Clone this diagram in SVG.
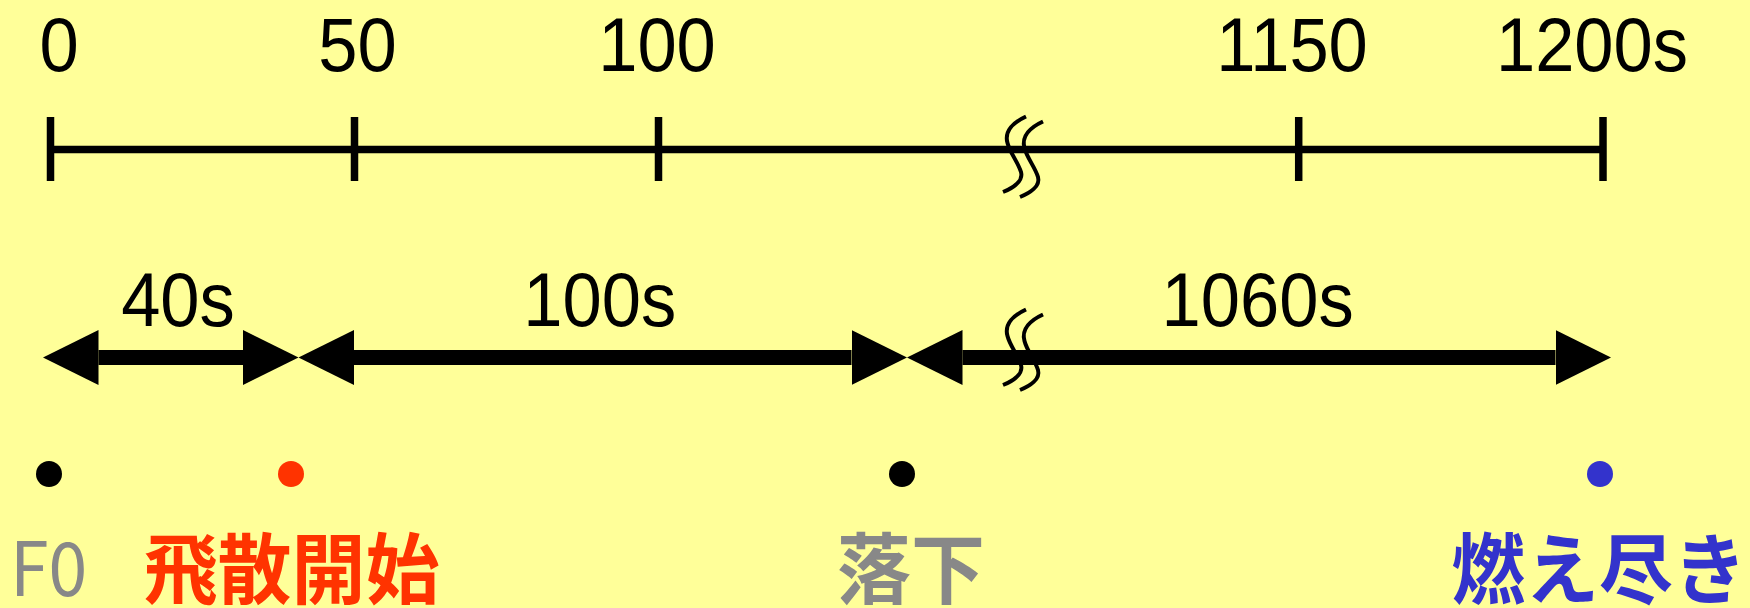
<svg xmlns="http://www.w3.org/2000/svg" xmlns:xlink="http://www.w3.org/1999/xlink" width="1750" height="608" viewBox="0 0 1750 608">
  <style>
    .num { font-family: "Liberation Sans", Arial, sans-serif; font-size: 76px; fill: #000; text-anchor: middle; }
    .jp { font-family: "Noto Sans CJK JP", "Noto Sans CJK SC", sans-serif; font-size: 77px; font-weight: bold; text-anchor: middle; }
    .lat { font-family: "Noto Sans CJK JP", "Noto Sans", sans-serif; font-size: 75px; fill: #888888; text-anchor: middle; }
    .axis { stroke: #000; stroke-width: 7.5; fill: none; }
    .tick { stroke: #000; stroke-width: 7.5; }
    .shaft { stroke: #000; stroke-width: 15; }
    .brk { stroke: #000; stroke-width: 4; fill: none; }
  </style>
  <defs>
    <marker id="head" markerUnits="userSpaceOnUse" viewBox="0 -28 56 56" refX="0" refY="0" markerWidth="56" markerHeight="56" orient="auto-start-reverse">
      <path d="M0,-27.5 L55.5,0 L0,27.5 Z" fill="#000"/>
    </marker>
    <g id="breakmark">
      <path class="brk" d="M1026,116.5 C1014,122 1004,131 1007.5,143 C1010,153 1018,162 1021,172 C1023.5,181 1013,188 1003,192"/>
      <path class="brk" d="M1043,121.5 C1031,127 1021,136 1024.5,148 C1027,158 1035,167 1038,177 C1040.5,186 1030,193 1020,197"/>
    </g>
  </defs>

  <rect x="0" y="0" width="1750" height="608" fill="#FFFF99"/>

  <g id="timeline">
    <line class="axis" x1="50.5" y1="149.5" x2="1603" y2="149.5"/>
    <line class="tick" x1="50.5" y1="117" x2="50.5" y2="181"/>
    <line class="tick" x1="354.5" y1="117" x2="354.5" y2="181"/>
    <line class="tick" x1="658.5" y1="117" x2="658.5" y2="181"/>
    <line class="tick" x1="1298.7" y1="117" x2="1298.7" y2="181"/>
    <line class="tick" x1="1603" y1="117" x2="1603" y2="181"/>
    <use xlink:href="#breakmark"/>
    <text class="num" transform="translate(59,71) scale(0.928,1)">0</text>
    <text class="num" transform="translate(357.5,71) scale(0.928,1)">50</text>
    <text class="num" transform="translate(657,71) scale(0.928,1)">100</text>
    <text class="num" transform="translate(1292,71) scale(0.928,1)">1150</text>
    <text class="num" transform="translate(1592,71) scale(0.928,1)">1200s</text>
  </g>

  <g id="connectors">
    <g id="span-40s">
      <line class="shaft" x1="98.5" y1="357.5" x2="243" y2="357.5" marker-start="url(#head)" marker-end="url(#head)"/>
      <text class="num" transform="translate(178,325.5) scale(0.928,1)">40s</text>
    </g>
    <g id="span-100s">
      <line class="shaft" x1="354" y1="357.5" x2="851.5" y2="357.5" marker-start="url(#head)" marker-end="url(#head)"/>
      <text class="num" transform="translate(599.7,325.5) scale(0.928,1)">100s</text>
    </g>
    <g id="span-1060s">
      <line class="shaft" x1="962.5" y1="357.5" x2="1555.5" y2="357.5" marker-start="url(#head)" marker-end="url(#head)"/>
      <use xlink:href="#breakmark" transform="translate(0,193)"/>
      <text class="num" transform="translate(1257.6,325.5) scale(0.928,1)">1060s</text>
    </g>
  </g>

  <g id="event-f0">
    <circle cx="49" cy="474" r="13" fill="#000"/>
    <text class="lat" transform="translate(48.5,596) scale(0.93,1)">F0</text>
  </g>
  <g id="event-hisan">
    <circle cx="291" cy="474" r="13" fill="#FF3300"/>
    <text class="jp" fill="#FF3300" transform="translate(291.5,598) scale(0.96,1)">飛散開始</text>
  </g>
  <g id="event-rakka">
    <circle cx="902" cy="474" r="13" fill="#000"/>
    <text class="jp" fill="#888888" transform="translate(911,598) scale(0.96,1)">落下</text>
  </g>
  <g id="event-moetsuki">
    <circle cx="1600" cy="474" r="13" fill="#3333CC"/>
    <text class="jp" fill="#3333CC" transform="translate(1599,598) scale(0.96,1)">燃え尽き</text>
  </g>
</svg>
